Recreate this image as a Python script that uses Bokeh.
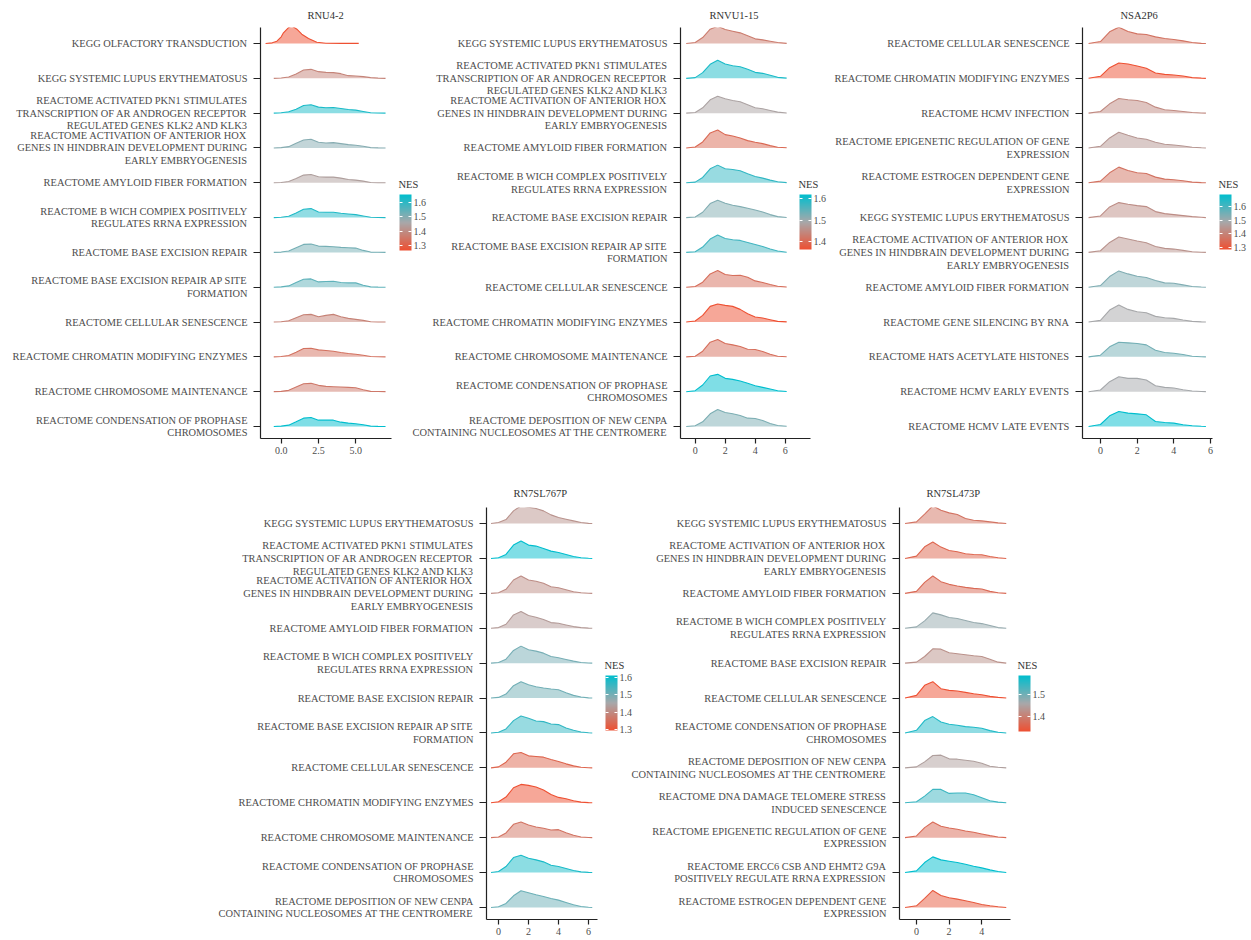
from bokeh.plotting import figure
from bokeh.models import (ColumnDataSource, LinearColorMapper, ColorBar, FixedTicker,
                          PrintfTickFormatter, Range1d, Spacer, Label)
from bokeh.layouts import row, column
from bokeh.embed import file_html
from bokeh.resources import INLINE

# ---------------- data ----------------
HOX = "REACTOME ACTIVATION OF ANTERIOR HOX\nGENES IN HINDBRAIN DEVELOPMENT DURING\nEARLY EMBRYOGENESIS"
PKN1 = "REACTOME ACTIVATED PKN1 STIMULATES\nTRANSCRIPTION OF AR ANDROGEN RECEPTOR\nREGULATED GENES KLK2 AND KLK3"
SLE = "KEGG SYSTEMIC LUPUS ERYTHEMATOSUS"
AMY = "REACTOME AMYLOID FIBER FORMATION"
BWICH = "REACTOME B WICH COMPLEX POSITIVELY\nREGULATES RRNA EXPRESSION"
BER = "REACTOME BASE EXCISION REPAIR"
BERAP = "REACTOME BASE EXCISION REPAIR AP SITE\nFORMATION"
CSEN = "REACTOME CELLULAR SENESCENCE"
CHRM = "REACTOME CHROMATIN MODIFYING ENZYMES"
CMAINT = "REACTOME CHROMOSOME MAINTENANCE"
COND = "REACTOME CONDENSATION OF PROPHASE\nCHROMOSOMES"
DEPO = "REACTOME DEPOSITION OF NEW CENPA\nCONTAINING NUCLEOSOMES AT THE CENTROMERE"
EPI = "REACTOME EPIGENETIC REGULATION OF GENE\nEXPRESSION"
ESTRO = "REACTOME ESTROGEN DEPENDENT GENE\nEXPRESSION"

# Panel 1: RNU4-2
P1_TITLE = "RNU4-2"
P1_LABELS = ["KEGG OLFACTORY TRANSDUCTION", SLE, PKN1, HOX, AMY,
             "REACTOME B WICH COMPlEX POSITIVELY\nREGULATES RRNA EXPRESSION",
             BER, BERAP, CSEN, CHRM, CMAINT, COND]
P1_NES = [1.265, 1.38, 1.625, 1.50, 1.44, 1.617, 1.52, 1.545, 1.375, 1.34, 1.355, 1.656]
P1_X = [-0.5, 0, 0.5, 1, 1.5, 2, 2.5, 3, 3.5, 4, 4.5, 5, 5.5, 6, 6.5, 7]
P1_OLF_X = [-1.05, -0.6, -0.29, 0, 0.15, 0.49, 0.71, 1.05, 1.38, 1.83, 2.39, 3.0, 4.0, 5.2]
P1_OLF_D = [0, 2, 7, 20, 32, 48, 53, 43, 28, 15, 4, 1, 0.5, 0.5]
P1_D = [
    [0, 1, 4, 13, 25, 27, 20, 18, 17, 14, 8, 7, 5, 2, 0.5, 0],
    [0, 1, 4, 12, 23, 25, 18, 16, 17, 14, 11, 9, 5, 1, 0.3, 0],
    [0, 1, 4, 14, 24, 26, 17, 15, 16, 13, 10, 8, 5, 1, 0.3, 0],
    [0, 1, 4, 13, 23, 25, 18, 17, 17, 14, 10, 8, 5, 1, 0.3, 0],
    [0, 1, 4, 14, 25, 27, 17, 16, 16, 13, 11, 9, 5, 1, 0.3, 0],
    [0, 1, 4, 14, 24, 25, 19, 18, 17, 15, 14, 13, 6, 1, 0.3, 0],
    [0, 1, 4, 14, 24, 25, 16, 17, 18, 14, 13, 13, 6, 1, 0.3, 0],
    [0, 1, 4, 13, 22, 23, 16, 20, 23, 16, 11, 8, 5, 1, 0.3, 0],
    [0, 1, 4, 14, 25, 26, 21, 19, 17, 13, 10, 8, 5, 1, 0.3, 0],
    [0, 1, 4, 14, 24, 25, 19, 16, 15, 14, 13, 12, 6, 1, 0.3, 0],
    [0, 1, 4, 14, 25, 27, 19, 19, 19, 13, 10, 8, 5, 1, 0.3, 0],
]
P1_XTICKS = [0, 2.5, 5.0]

# Panel 2: RNVU1-15
P2_TITLE = "RNVU1-15"
P2_LABELS = [SLE, PKN1, HOX, AMY, BWICH, BER, BERAP, CSEN, CHRM, CMAINT, COND, DEPO]
P2_NES = [1.427, 1.598, 1.483, 1.40, 1.58, 1.52, 1.568, 1.407, 1.363, 1.407, 1.619, 1.525]
P2_X = [-0.6, 0, 0.5, 1, 1.5, 2, 2.5, 3, 3.5, 4, 4.5, 5, 5.5, 6.1]
P2_D = [
    [0, 3, 18, 43, 52, 42, 37, 32, 23, 14, 11, 7, 3, 0.5],
    [0, 2, 17, 42, 54, 43, 38, 35, 27, 18, 15, 9, 3, 0.5],
    [0, 2, 16, 40, 51, 43, 38, 34, 25, 16, 13, 8, 3, 0.5],
    [0, 3, 18, 45, 54, 40, 36, 30, 22, 17, 13, 7, 2, 0.5],
    [0, 2, 16, 42, 53, 42, 40, 36, 27, 19, 14, 8, 3, 0.5],
    [0, 2, 16, 42, 52, 43, 37, 33, 28, 23, 17, 9, 3, 0.5],
    [0, 2, 16, 40, 52, 42, 38, 36, 30, 24, 18, 10, 4, 0.5],
    [0, 2, 15, 40, 50, 38, 35, 36, 30, 19, 14, 8, 3, 0.5],
    [0, 3, 20, 47, 54, 50, 47, 38, 25, 15, 12, 7, 2, 0.5],
    [0, 2, 17, 44, 52, 40, 36, 31, 23, 22, 16, 8, 2, 0.5],
    [0, 3, 20, 47, 52, 40, 37, 32, 25, 18, 13, 8, 3, 0.5],
    [0, 2, 14, 38, 51, 42, 38, 33, 25, 24, 18, 9, 3, 0.5],
]
P2_XTICKS = [0, 2, 4, 6]

# Panel 3: NSA2P6
P3_TITLE = "NSA2P6"
P3_LABELS = [CSEN, CHRM, "REACTOME HCMV INFECTION", EPI, ESTRO, SLE, HOX, AMY,
             "REACTOME GENE SILENCING BY RNA", "REACTOME HATS ACETYLATE HISTONES",
             "REACTOME HCMV EARLY EVENTS", "REACTOME HCMV LATE EVENTS"]
P3_NES = [1.366, 1.285, 1.418, 1.446, 1.366, 1.426, 1.438, 1.535, 1.487, 1.55, 1.49, 1.688]
P3_X = [-0.65, 0, 0.5, 1, 1.5, 2, 2.5, 3, 3.5, 4, 4.5, 5, 5.5, 5.75]
P3_D = [
    [0, 6, 35, 49, 36, 29, 27, 20, 15, 12, 8, 3, 0.5, 0],
    [0, 6, 32, 46, 43, 37, 30, 16, 12, 10, 7, 2, 0.5, 0],
    [0, 5, 28, 44, 40, 38, 32, 18, 10, 8, 5, 2, 0.5, 0],
    [0, 5, 30, 47, 38, 30, 26, 17, 11, 9, 6, 2, 0.5, 0],
    [0, 5, 30, 47, 37, 30, 28, 17, 11, 9, 6, 2, 0.5, 0],
    [0, 5, 32, 45, 40, 36, 33, 18, 12, 9, 6, 3, 1, 0],
    [0, 5, 30, 46, 40, 34, 29, 18, 12, 10, 6, 2, 0.5, 0],
    [0, 5, 32, 49, 40, 33, 29, 20, 13, 12, 7, 2, 0.5, 0],
    [0, 5, 36, 51, 38, 31, 28, 17, 13, 11, 6, 2, 0.5, 0],
    [0, 5, 30, 44, 42, 40, 36, 20, 13, 11, 7, 2, 0.5, 0],
    [0, 5, 30, 45, 40, 40, 35, 18, 13, 11, 6, 2, 0.5, 0],
    [0, 6, 32, 45, 40, 38, 35, 15, 12, 10, 5, 2, 0.5, 0],
]
P3_XTICKS = [0, 2, 4, 6]

# Panel 4: RN7SL767P
P4_TITLE = "RN7SL767P"
P4_LABELS = [SLE, PKN1, HOX, AMY, BWICH, BER, BERAP, CSEN, CHRM, CMAINT, COND, DEPO]
P4_NES = [1.415, 1.612, 1.405, 1.428, 1.50, 1.504, 1.564, 1.332, 1.294, 1.358, 1.587, 1.51]
P4_X = [-0.5, 0, 0.5, 1, 1.5, 2, 2.5, 3, 3.5, 4, 4.5, 5, 5.5, 6, 6.25]
P4_D = [
    [0, 3, 12, 38, 53, 49, 45, 38, 26, 18, 13, 8, 3, 0.5, 0],
    [0, 2, 12, 40, 52, 40, 37, 30, 22, 18, 12, 6, 2, 0.5, 0],
    [0, 2, 12, 40, 52, 40, 36, 30, 20, 17, 11, 5, 2, 0.5, 0],
    [0, 2, 12, 40, 50, 38, 33, 26, 17, 15, 10, 5, 2, 0.5, 0],
    [0, 2, 12, 38, 51, 40, 36, 30, 20, 16, 11, 6, 2, 0.5, 0],
    [0, 2, 12, 37, 49, 40, 34, 30, 27, 25, 16, 8, 3, 0.5, 0],
    [0, 2, 12, 37, 51, 44, 36, 34, 27, 25, 15, 8, 3, 0.5, 0],
    [0, 3, 17, 42, 46, 36, 34, 32, 25, 19, 12, 6, 2, 0.5, 0],
    [0, 3, 17, 45, 55, 52, 47, 38, 25, 16, 12, 6, 2, 0.5, 0],
    [0, 2, 14, 40, 47, 38, 32, 28, 23, 24, 15, 7, 2, 0.5, 0],
    [0, 3, 18, 45, 52, 43, 38, 32, 22, 18, 12, 6, 2, 0.5, 0],
    [0, 2, 12, 35, 50, 44, 38, 33, 27, 22, 15, 8, 3, 0.5, 0],
]
P4_XTICKS = [0, 2, 4, 6]

# Panel 5: RN7SL473P
P5_TITLE = "RN7SL473P"
P5_LABELS = [SLE, HOX, AMY, BWICH, BER, CSEN, COND, DEPO,
             "REACTOME DNA DAMAGE TELOMERE STRESS\nINDUCED SENESCENCE", EPI,
             "REACTOME ERCC6 CSB AND EHMT2 G9A\nPOSITIVELY REGULATE RRNA EXPRESSION", ESTRO]
P5_NES = [1.383, 1.362, 1.37, 1.472, 1.426, 1.332, 1.561, 1.446, 1.54, 1.37, 1.586, 1.345]
P5_X = [-0.7, 0, 0.5, 1, 1.5, 2, 2.5, 3, 3.5, 4, 4.5, 5, 5.5]
P5_D = [
    [0, 5, 28, 53, 40, 32, 27, 15, 10, 8, 5, 2, 0],
    [0, 7, 35, 49, 34, 24, 20, 14, 12, 11, 6, 2, 0],
    [0, 6, 33, 52, 35, 27, 22, 18, 15, 13, 6, 2, 0],
    [0, 4, 22, 46, 40, 32, 29, 23, 17, 14, 8, 2, 0],
    [0, 3, 20, 43, 42, 31, 28, 25, 22, 20, 12, 3, 0],
    [0, 8, 38, 49, 28, 23, 21, 17, 13, 10, 5, 2, 0],
    [0, 8, 37, 49, 33, 26, 23, 19, 17, 14, 7, 2, 0],
    [0, 3, 18, 37, 38, 27, 26, 23, 20, 14, 5, 2, 0],
    [0, 3, 20, 40, 40, 28, 29, 29, 24, 15, 6, 2, 0],
    [0, 5, 30, 47, 34, 29, 25, 20, 16, 11, 6, 2, 0],
    [0, 5, 30, 47, 38, 34, 30, 25, 19, 14, 8, 3, 0],
    [0, 5, 27, 51, 36, 29, 25, 20, 15, 9, 5, 2, 0],
]
P5_XTICKS = [0, 2, 4]

NES_TICKS = [1.3, 1.4, 1.5, 1.6]
LEGEND_TITLE = "NES"

# ---------------- style ----------------
FONT = "Liberation Serif"
RIDGE_SCALE = 1 / 104.5
Y_LO, Y_HI = -0.345, 11.46
STOPS = [(238, 80, 50), (168, 168, 170), (0, 190, 206)]


def make_palette(stops, n=256):
    out = []
    for i in range(n):
        t = i / (n - 1) * (len(stops) - 1)
        k = min(int(t), len(stops) - 2)
        f = t - k
        a, b = stops[k], stops[k + 1]
        c = [round(a[j] + (b[j] - a[j]) * f) for j in range(3)]
        out.append("#%02x%02x%02x" % tuple(c))
    return out


PALETTE = make_palette(STOPS)


def build_panel(title, labels, nes, xs_list, dens, x_rng, xticks, xfmt,
                bl, fw, br, bt, fh, bb, cb_xy, cb_h, t_standoff, t_offset):
    n = len(labels)
    xpu = fw / (x_rng[1] - x_rng[0])
    ypu = fh / (Y_HI - Y_LO)
    # the frame also covers the legend area on the right; the x axis line is bounded
    x_hi_ext = x_rng[0] + (fw + br) / xpu
    p = figure(width=bl + fw + br, height=bt + fh + bb,
               x_range=Range1d(x_rng[0], x_hi_ext), y_range=Range1d(Y_LO, Y_HI),
               output_backend="svg", toolbar_location=None,
               min_border_left=bl, min_border_right=0,
               min_border_top=bt, min_border_bottom=bb, title=title)
    p.border_fill_color = None
    p.background_fill_color = None
    p.outline_line_color = None
    p.xgrid.visible = False
    p.ygrid.visible = False

    p.title.align = "left"
    p.title.offset = t_offset
    p.title.text_font = FONT
    p.title.text_font_size = "10.5px"
    p.title.text_font_style = "normal"
    p.title.text_color = "#333333"
    p.title.standoff = t_standoff

    mapper = LinearColorMapper(palette=PALETTE, low=min(nes), high=max(nes))
    fx, fy, lx, ly = [], [], [], []
    for i in range(n):
        base = n - 1 - i
        xg = xs_list[i]
        top = [base + v * RIDGE_SCALE for v in dens[i]]
        lx.append(list(xg))
        ly.append(top)
        fx.append(list(xg) + [xg[-1], xg[0]])
        fy.append(top + [base, base])
    src = ColumnDataSource(dict(fx=fx, fy=fy, lx=lx, ly=ly, nes=nes))
    p.patches("fx", "fy", source=src,
              fill_color={"field": "nes", "transform": mapper},
              fill_alpha=0.5, line_color=None)
    p.multi_line("lx", "ly", source=src,
                 line_color={"field": "nes", "transform": mapper}, line_width=1.1)

    for ax in (p.xaxis[0], p.yaxis[0]):
        ax.axis_line_color = "#222222"
        ax.axis_line_width = 1.2
        ax.major_tick_line_color = "#222222"
        ax.major_tick_line_width = 1.2
        ax.major_tick_in = 0
        ax.minor_tick_line_color = None
        ax.major_label_text_font = FONT
        ax.major_label_text_color = "#4D4D4D"

    p.yaxis.ticker = FixedTicker(ticks=list(range(n)))
    p.yaxis.major_label_overrides = {n - 1 - i: lab for i, lab in enumerate(labels)}
    p.yaxis.major_tick_out = 7
    p.yaxis.major_label_standoff = 6
    p.yaxis.major_label_text_font_size = "10.4px"
    p.yaxis.major_label_text_line_height = 1.15

    p.xaxis.bounds = (x_rng[0], x_rng[1])
    p.xaxis.ticker = FixedTicker(ticks=xticks)
    p.xaxis.formatter = PrintfTickFormatter(format=xfmt)
    p.xaxis.major_tick_out = 5
    p.xaxis.major_label_standoff = 3
    p.xaxis.major_label_text_font_size = "10px"

    cb = ColorBar(color_mapper=mapper, ticker=FixedTicker(ticks=NES_TICKS),
                  formatter=PrintfTickFormatter(format="%.1f"),
                  orientation="vertical",
                  major_label_text_font=FONT, major_label_text_font_size="10px",
                  major_label_text_color="#4D4D4D", label_standoff=2,
                  major_tick_line_color="white", major_tick_in=12, major_tick_out=0,
                  major_tick_line_dash="3 6", major_tick_line_width=1.2,
                  minor_tick_line_color=None, bar_line_color=None,
                  border_line_color=None, background_fill_color=None,
                  width=12, height=cb_h, padding=0, margin=0, location=cb_xy)
    p.add_layout(cb, "center")

    # legend title just above the bar
    p.add_layout(Label(x=x_rng[0] + (cb_xy[0] - 1) / xpu,
                       y=Y_LO + (cb_xy[1] + cb_h + 5) / ypu,
                       text=LEGEND_TITLE, text_font=FONT, text_font_size="10.5px",
                       text_color="#333333", text_align="left", text_baseline="bottom"))
    return p


p1_xs = [P1_OLF_X] + [P1_X] * 11
p1_d = [P1_OLF_D] + P1_D

# row 1: frames at y 27..438
p1 = build_panel(P1_TITLE, P1_LABELS, P1_NES, p1_xs, p1_d, (-1.39, 7.40), P1_XTICKS, "%.1f",
                 260, 131, 37, 27, 411, 24, (139, 188), 56, 14, 47)
p2 = build_panel(P2_TITLE, P2_LABELS, P2_NES, [P2_X] * 12, P2_D, (-0.98, 7.69), P2_XTICKS, "%d",
                 275, 130, 20, 27, 411, 24, (119, 189), 55, 14, 29)
p3 = build_panel(P3_TITLE, P3_LABELS, P3_NES, [P3_X] * 12, P3_D, (-0.98, 6.11), P3_XTICKS, "%d",
                 267, 130, 38, 27, 411, 24, (137, 189), 55, 14, 38)
# row 2: frames at y 507..919
p4 = build_panel(P4_TITLE, P4_LABELS, P4_NES, [P4_X] * 12, P4_D, (-0.8, 6.6), P4_XTICKS, "%d",
                 281, 111, 43, 45, 412, 21, (119, 189), 55, 18, 27)
p5 = build_panel(P5_TITLE, P5_LABELS, P5_NES, [P5_X] * 12, P5_D, (-1.04, 5.76), P5_XTICKS, "%d",
                 281, 111, 45, 45, 412, 21, (119, 188), 56, 18, 27)

p2.margin = (0, 0, 0, -23)
p3.margin = (0, 0, 0, -15)
p5.margin = (0, 0, 0, -22)

layout = column(row(p1, p2, p3), row(Spacer(width=205, height=478), p4, p5))

open("out.html", "w").write(file_html(layout, INLINE))
